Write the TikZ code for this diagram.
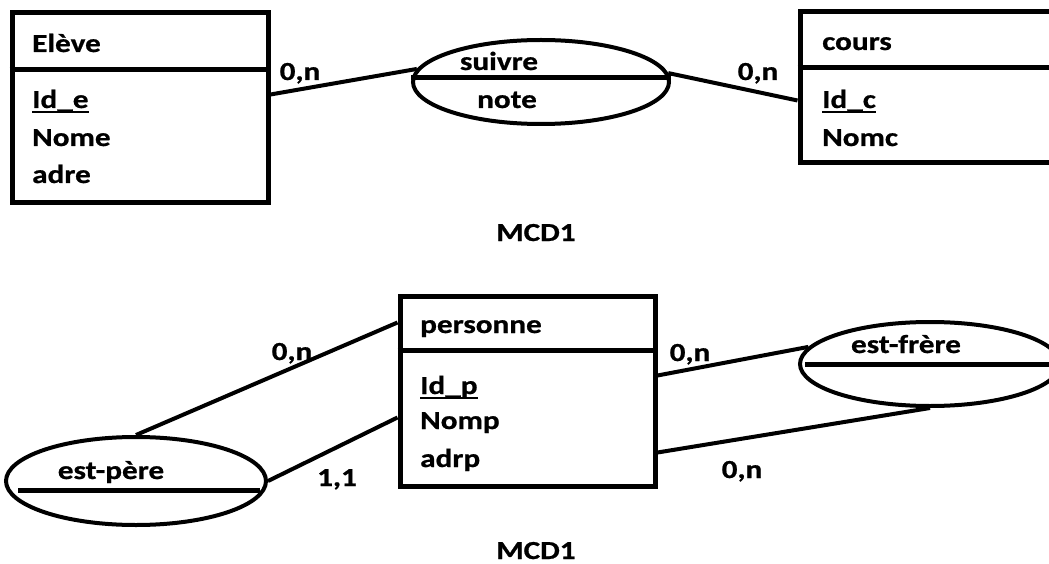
\documentclass[tikz,border=0pt]{standalone}
\usepackage{fontspec}
\setmainfont{Carlito}[FakeStretch=1.2, BoldFeatures={FakeBold=0.8}]
\usetikzlibrary{shapes.geometric,calc}

% underlined identifier (primary key)
\newcommand\keyattr[1]{\setbox0\hbox{#1}\rlap{\rule[-5pt]{\wd0}{2pt}}\box0}

\tikzset{
  txt/.style={font=\fontsize{26}{30}\selectfont\bfseries, inner sep=0pt},
  ent/.style={draw, line width=5pt, rectangle, inner sep=0pt},
  rel/.style={draw, line width=4pt, ellipse, inner sep=0pt},
  sep/.style={line width=5pt},
  link/.style={line width=4pt},
}

\begin{document}
\begin{tikzpicture}[x=1pt,y=-1pt]
\useasboundingbox (0,0) rectangle (1049,564);

% ---------- MCD1 : Eleve -- suivre -- cours ----------
\node[ent, minimum width=256pt, minimum height=190pt] (eleve) at (140,108) {};
\draw[sep] (eleve.west |- 0,70) -- (eleve.east |- 0,70);
\node[txt, anchor=base west] (eleveT) at (32,52) {Elève};
\node[txt, anchor=base west] (eleveA) at (32,108) {\keyattr{Id\_e}};
\node[txt, anchor=base west] (eleveB) at (32,146) {Nome};
\node[txt, anchor=base west] (eleveC) at (32,183) {adre};

\node[ent, minimum width=270pt, minimum height=151pt] (cours) at (935,87.5) {};
\draw[sep] (cours.west |- 0,68) -- (cours.east |- 0,68);
\node[txt, anchor=base west] (coursT) at (822,50) {cours};
\node[txt, anchor=base west] (coursA) at (822,108) {\keyattr{Id\_c}};
\node[txt, anchor=base west] (coursB) at (822,146) {Nomc};

\node[rel, minimum width=256pt, minimum height=84pt] (suivre) at (541,82) {};
\draw[sep] (suivre.west |- 0,78) -- (suivre.east |- 0,78);
\node[txt, anchor=base] (suivreT) at (499,70) {suivre};
\node[txt, anchor=base] (suivreA) at (507,108) {note};

\draw[link] ($(eleve.north east)+(0,84)$) -- (suivre.174);
\draw[link] (suivre.4) -- ($(cours.north west)+(0,91)$);
\node[txt, anchor=base] (c1) at (300,80) {0,n};
\node[txt, anchor=base] (c2) at (758,80) {0,n};

\node[txt, anchor=base] (mcdA) at (536,241) {MCD1};

% ---------- MCD1 : personne with reflexive relations ----------
\node[ent, minimum width=255pt, minimum height=190pt] (pers) at (527.5,391) {};
\draw[sep] (pers.west |- 0,350) -- (pers.east |- 0,350);
\node[txt, anchor=base west] (persT) at (420,333) {personne};
\node[txt, anchor=base west] (persA) at (420,394) {\keyattr{Id\_p}};
\node[txt, anchor=base west] (persB) at (420,429) {Nomp};
\node[txt, anchor=base west] (persC) at (420,467) {adrp};

\node[rel, minimum width=260pt, minimum height=84pt] (frere) at (930,364) {};
\draw[sep] (805,364) -- (frere.east);
\node[txt, anchor=base] (frereT) at (906,353) {est-frère};

\node[rel, minimum width=260pt, minimum height=88pt] (pere) at (136,481) {};
\draw[sep] (18,490) -- (260,490);
\node[txt, anchor=base] (pereT) at (111,479) {est-père};

\draw[link] (pere.north) -- ($(pers.north west)+(0,29)$);
\draw[link] (pere.east) -- ($(pers.north west)+(0,124)$);
\draw[link] ($(pers.north east)+(0,82)$) -- (frere.172);
\draw[link] ($(pers.north east)+(0,159)$) -- (frere.south);

\node[txt, anchor=base] (c3) at (292,360) {0,n};
\node[txt, anchor=base] (c4) at (337,486) {1,1};
\node[txt, anchor=base] (c5) at (690,361) {0,n};
\node[txt, anchor=base] (c6) at (742,478) {0,n};

\node[txt, anchor=base] (mcdB) at (536,559) {MCD1};
\end{tikzpicture}
\end{document}
